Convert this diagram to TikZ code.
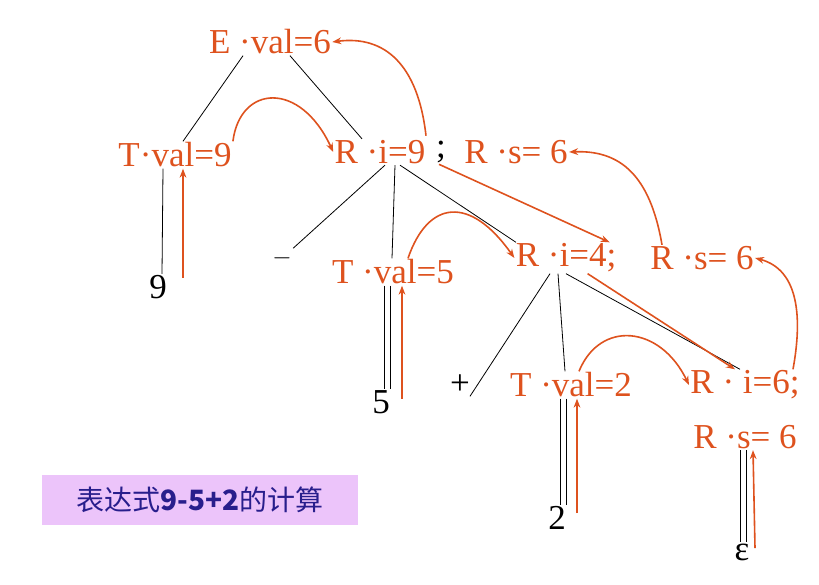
\documentclass[tikz,border=0pt]{standalone}
\usepackage{fontspec}
\setmainfont{Liberation Serif}
\newfontfamily\cjk{Noto Sans CJK SC}
\usetikzlibrary{positioning,calc,arrows.meta}
\definecolor{attr}{RGB}{222,82,30}
\definecolor{capbox}{RGB}{236,196,250}
\definecolor{captext}{RGB}{40,30,140}
\begin{document}
\begin{tikzpicture}[x=1pt, y=-1pt, line width=0.8pt,
    attr/.style={text=attr, inner sep=1pt, font=\fontsize{35}{40}\selectfont},
    sym/.style={inner sep=1pt, font=\fontsize{35}{40}\selectfont},
    tree/.style={black},
    pass/.style={attr, draw=attr, line width=1.6pt, -{Stealth[length=9pt]}}]
    \useasboundingbox (0,0) rectangle (819,585);

    % attribute nodes
    \node[attr] (E) at (270,42) {E ·val=6};
    \node[attr] (T9) at (175,155) {T·val=9};
    \node[attr] (Ri9) at (380,152) {R ·i=9};
    \node[sym, text=black] (semi) at (441,152) {;};
    \node[attr] (Rs9) at (516,152) {R ·s= 6};
    \node[attr] (T5) at (393,272) {T ·val=5};
    \node[attr] (Ri4) at (566,258) {R ·i=4;};
    \node[attr] (Rs4) at (702,258) {R ·s= 6};
    \node[attr] (T2) at (571,385) {T ·val=2};
    \node[attr] (Ri6) at (745,385) {R · i=6;};
    \node[attr] (Rs6) at (745,437) {R ·s= 6};

    % terminals
    \node[sym] (n9) at (158,287) {9};
    \node[sym] (minus) at (282,258) {$-$};
    \node[sym] (n5) at (381,402) {5};
    \node[sym] (plus) at (460,385) {+};
    \node[sym] (n2) at (557,518) {2};
    \node[sym] (eps) at (742,552) {ε};

    % caption
    \node[fill=capbox, minimum width=316, minimum height=50, font=\cjk\fontsize{28}{32}\selectfont, text=captext] (cap) at (200,500) {表达式\textbf{9-5+2}的计算};

    % tree edges
    \draw[tree] ([xshift=-27]E.south) -- ([xshift=8]T9.north);
    \draw[tree] ([xshift=20]E.south) -- ([xshift=-18]Ri9.north);
    \draw[tree] ([xshift=-12]T9.south) -- ([xshift=4]n9.north);
    \draw[tree] ([xshift=5]Ri9.south) -- (minus.north east);
    \draw[tree] ([xshift=15]Ri9.south) -- ([xshift=-1]T5.north);
    \draw[tree] ([xshift=20]Ri9.south) -- ([xshift=-50]Ri4.north);
    \draw[tree] ([xshift=-9]T5.south) -- ([xshift=3]n5.north);
    \draw[tree] ([xshift=-3]T5.south) -- ([xshift=9]n5.north);
    \draw[tree] ([xshift=-16]Ri4.south) -- ([xshift=10]plus.south);
    \draw[tree] ([xshift=-8]Ri4.south) -- ([xshift=-6]T2.north);
    \draw[tree] ([xshift=0]Ri4.south) -- ([xshift=-5]Ri6.north);
    \draw[tree] ([xshift=-11]T2.south) -- ([xshift=3]n2.north);
    \draw[tree] ([xshift=-5]T2.south) -- ([xshift=9]n2.north);
    \draw[tree] ([xshift=-5]Rs6.south) -- ([xshift=-2]eps.north);
    \draw[tree] ([xshift=1]Rs6.south) -- ([xshift=4]eps.north);

    % attribute passing
    \draw[pass] ([xshift=25,yshift=-4]n9.north) -- ([xshift=8]T9.south);
    \draw[pass] ([xshift=21,yshift=-10]n5.north) -- ([xshift=9]T5.south);
    \draw[pass] ([xshift=20,yshift=-8]n2.north) -- ([xshift=6]T2.south);
    \draw[pass] ([xshift=13,yshift=-6]eps.north) -- ([xshift=8]Rs6.south);
    \draw[pass] (T9.north east) .. controls (240,85) and (300,80) .. (Ri9.west);
    \draw[pass] ([xshift=-15,yshift=4]semi.north) .. controls (418,65) and (385,35) .. (E.east);
    \draw[pass] ([xshift=-2]semi.south) -- ([xshift=-8]Ri4.north east);
    \draw[pass] ([xshift=15]T5.north) .. controls (428,200) and (470,195) .. (Ri4.west);
    \draw[pass] ([xshift=-40]Rs4.north) .. controls (650,175) and (620,150) .. (Rs9.east);
    \draw[pass] ([xshift=-30]Ri4.south east) -- ([xshift=-10]Ri6.north);
    \draw[pass] ([xshift=8]T2.north) .. controls (600,320) and (660,325) .. (Ri6.west);
    \draw[pass] ([xshift=-8]Ri6.north east) .. controls (802,320) and (800,270) .. (Rs4.east);
\end{tikzpicture}
\end{document}
